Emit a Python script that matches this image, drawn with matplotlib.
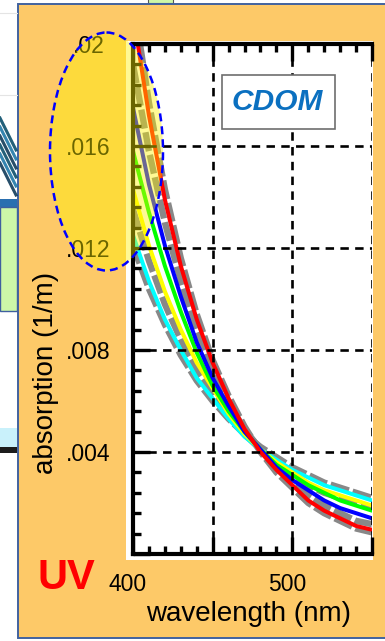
import matplotlib
matplotlib.use('Agg')
import matplotlib.pyplot as plt
import matplotlib.transforms as mtransforms
from matplotlib.patches import Rectangle, Ellipse
from matplotlib.ticker import FixedLocator, FixedFormatter, MultipleLocator

plt.rcParams['font.family'] = ['Liberation Sans', 'DejaVu Sans']

# ---------------- data ----------------
wavelength = [400, 410, 420, 430, 440, 450, 460, 470, 480, 490, 500, 510, 520, 530, 540, 550]
a_red    = [0.0212, 0.0172, 0.0139, 0.0113, 0.0092, 0.0075, 0.0061, 0.0049, 0.0040, 0.0033, 0.0027, 0.0021, 0.0017, 0.0014, 0.0011, 0.00095]
a_blue   = [0.0175, 0.0145, 0.0121, 0.0101, 0.0083, 0.0069, 0.0058, 0.0048, 0.0041, 0.0034, 0.0029, 0.0025, 0.0021, 0.0018, 0.0016, 0.0014]
a_green  = [0.0158, 0.0134, 0.0113, 0.0095, 0.0079, 0.0066, 0.0056, 0.0048, 0.0041, 0.0035, 0.0031, 0.0027, 0.0024, 0.0021, 0.0019, 0.0017]
a_yellow = [0.0143, 0.0121, 0.0103, 0.0088, 0.0075, 0.0065, 0.0055, 0.0047, 0.0041, 0.0036, 0.0032, 0.0028, 0.0025, 0.0023, 0.0021, 0.0019]
a_cyan   = [0.0125, 0.0107, 0.0092, 0.0080, 0.0069, 0.0061, 0.0053, 0.0046, 0.0041, 0.0037, 0.0033, 0.0030, 0.0027, 0.0025, 0.0023, 0.0021]
a_gray_lo  = [0.0218, 0.0177, 0.0143, 0.0116, 0.0094, 0.0076, 0.0062, 0.0050, 0.0040, 0.0032, 0.0026, 0.0020, 0.0016, 0.0013, 0.0010, 0.00085]
a_gray_rb  = [0.0192, 0.0158, 0.0130, 0.0107, 0.0087, 0.0072, 0.0059, 0.0049, 0.0041, 0.0034, 0.0028, 0.0023, 0.0019, 0.0016, 0.0013, 0.00117]
a_gray_mid = [0.0135, 0.0115, 0.0098, 0.0084, 0.0072, 0.0063, 0.0054, 0.0047, 0.0041, 0.0036, 0.0031, 0.0027, 0.0024, 0.0022, 0.0020, 0.0018]
a_gray_hi  = [0.0121, 0.0104, 0.0090, 0.0078, 0.0068, 0.0060, 0.0053, 0.0047, 0.0042, 0.0038, 0.0034, 0.0031, 0.0028, 0.0026, 0.0024, 0.0022]

x_ticks = [400, 450, 500, 550]
x_ticklabels = ['400', '', '500', '']
y_ticks = [0.0, 0.004, 0.008, 0.012, 0.016, 0.02]
y_ticklabels = ['', '.004', '.008', '.012', '.016', '.02']

W, H = 385, 641
fig = plt.figure(figsize=(W / 100, H / 100), dpi=100, facecolor='white')

# ---------------- background decoration (pixel coords) ----------------
bg = fig.add_axes([0, 0, 1, 1], zorder=-1)
bg.set_xlim(0, W); bg.set_ylim(H, 0); bg.axis('off'); bg.patch.set_alpha(0)
for yy in [13, 95]:
    bg.plot([0, 17], [yy, yy], color='#e4e4e4', lw=0.8)
for k in range(6):
    bg.plot([0, 16], [118 + 9 * k, 150 + 9 * k], color=['#0b4f6c', '#1f78a8', '#0f3b5a'][k % 3], lw=2.2, alpha=0.9)
bg.add_patch(Rectangle((0, 199), 17, 8, fc='#2a6fb0', ec='none'))
bg.add_patch(Rectangle((0, 207), 17, 104, fc='#cdf7a8', ec='#3f5f9f', lw=1))
bg.add_patch(Rectangle((0, 428), 17, 19, fc='#c9f1fb', ec='none'))
bg.add_patch(Rectangle((0, 447), 17, 6, fc='#1c1c1c', ec='none'))
bg.add_patch(Rectangle((148, -2), 25, 5, fc='#cdf7a8', ec='#555555', lw=0.8))
bg.add_patch(Rectangle((17.5, 3.5), 400, 634.5, fc='#fdc968', ec='#41629f', lw=1.4))
bg.add_patch(Rectangle((126, 41), 247, 519, fc='white', ec='none'))

# ---------------- main axes ----------------
L, R, T, B = 133, 372, 44, 554
ax = fig.add_axes([L / W, 1 - B / H, (R - L) / W, (B - T) / H], zorder=1)
ax.set_xlim(400, 550)
ax.set_ylim(0, 0.02)

gray_kw = dict(color='#888888', lw=4.6, linestyle=(0, (3.0, 0.6)), solid_capstyle='butt')
for g in [a_gray_lo, a_gray_rb, a_gray_mid, a_gray_hi]:
    ax.plot(wavelength, g, zorder=1.5, **gray_kw)
for vals, col in [(a_cyan, '#00ffff'), (a_yellow, '#ffff00'), (a_green, '#00ff00'),
                  (a_blue, '#0000ff'), (a_red, '#ff0000')]:
    ax.plot(wavelength, vals, color=col, lw=2.9, zorder=2, solid_capstyle='round')

ax.xaxis.set_major_locator(FixedLocator(x_ticks))
ax.xaxis.set_major_formatter(FixedFormatter(x_ticklabels))
ax.xaxis.set_minor_locator(MultipleLocator(10))
ax.yaxis.set_major_locator(FixedLocator(y_ticks))
ax.yaxis.set_major_formatter(FixedFormatter(y_ticklabels))
ax.yaxis.set_minor_locator(MultipleLocator(0.0008))

ax.tick_params(which='both', direction='in', top=True, right=False, color='black')
ax.tick_params(which='major', length=12, width=2.4)
ax.tick_params(which='minor', length=6, width=2.4)
ax.tick_params(axis='x', which='major', labelsize=16.5, pad=14)
ax.tick_params(axis='y', which='major', labelsize=16.5, pad=32)
for lab in ax.get_yticklabels():
    lab.set_horizontalalignment('center')
shift = mtransforms.ScaledTranslation(-0.05, 0, fig.dpi_scale_trans)
for lab in ax.get_xticklabels():
    lab.set_transform(lab.get_transform() + shift)

for s in ['left', 'bottom', 'top']:
    ax.spines[s].set_linewidth(3)
ax.spines['right'].set_visible(False)
ax.grid(True, which='major', color='black', lw=1.9, linestyle=(0, (3.2, 2.4)))
ax.set_axisbelow(False)

# ---------------- foreground overlay (pixel coords) ----------------
fg = fig.add_axes([0, 0, 1, 1], zorder=2)
fg.set_xlim(0, W); fg.set_ylim(H, 0); fg.axis('off'); fg.patch.set_alpha(0)

fg.add_patch(Rectangle((222, 75), 113, 54, fc='white', ec='#6e6e6e', lw=1.2))
fg.text(277, 102.5, 'CDOM', color='#0b70c0', fontsize=21.5, fontweight='bold',
        fontstyle='italic', ha='center', va='center')

fg.add_patch(Ellipse((106.5, 151.5), 113, 238, fc=(1.0, 0.953, 0.0, 0.42),
                     ec='#0000ff', lw=1.8, linestyle=(0, (3.2, 2.0))))

fg.text(66.5, 578, 'UV', color='#ff0000', fontsize=30, fontweight='bold',
        ha='center', va='center')
fg.text(248.5, 614, 'wavelength (nm)', fontsize=20, ha='center', va='center')
fg.text(46, 373, 'absorption (1/m)', fontsize=20, rotation=90, ha='center', va='center')

fig.savefig('out.png', dpi=100, facecolor='white')
